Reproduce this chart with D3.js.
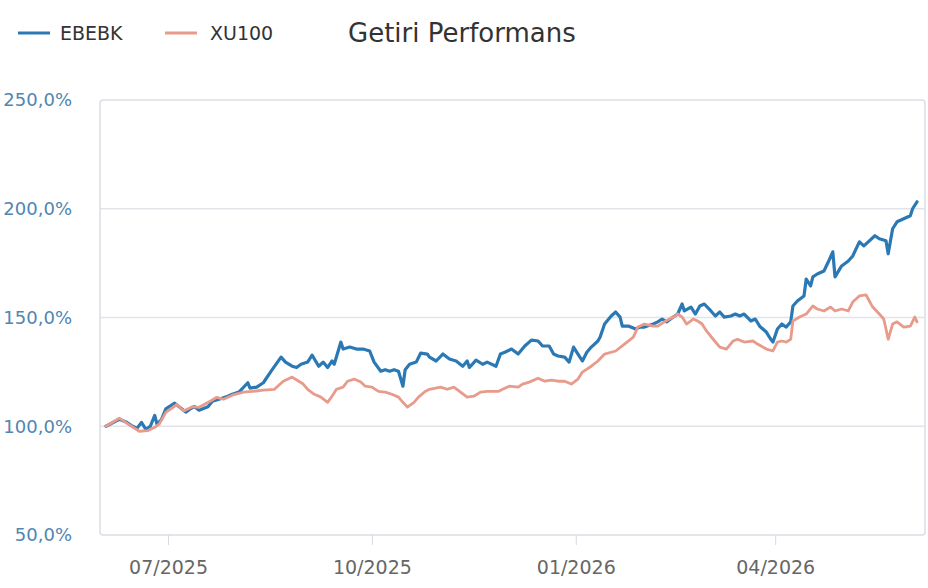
<!DOCTYPE html>
<html>
<head>
<meta charset="utf-8">
<script src="https://cdn.jsdelivr.net/npm/d3@7"></script>
<style>
  body { margin: 0; background: #fff; }
  svg { display: block; font-family: "DejaVu Sans", sans-serif; }
</style>
</head>
<body>
<svg id="chart"></svg>
<script>
const width = 928;
const height = 588;

// EBEBK, cumulative performance (% of start)
const ebebk = [
  ["2025-06-03", 100], ["2025-06-09", 103.2], ["2025-06-12", 102], ["2025-06-15", 100],
  ["2025-06-17", 99], ["2025-06-19", 101.8], ["2025-06-21", 98.6], ["2025-06-23", 100],
  ["2025-06-25", 105], ["2025-06-26", 101], ["2025-06-28", 103], ["2025-06-30", 108],
  ["2025-07-04", 110.6], ["2025-07-06", 109], ["2025-07-09", 106.5], ["2025-07-11", 108],
  ["2025-07-13", 109], ["2025-07-15", 107.4], ["2025-07-19", 109], ["2025-07-21", 111.5],
  ["2025-07-24", 112.4], ["2025-07-28", 113.8], ["2025-07-30", 114.7], ["2025-08-02", 115.7],
  ["2025-08-06", 120], ["2025-08-07", 117.5], ["2025-08-10", 118], ["2025-08-13", 120],
  ["2025-08-17", 126], ["2025-08-21", 131.8], ["2025-08-23", 129.5], ["2025-08-26", 127.6],
  ["2025-08-28", 127], ["2025-08-30", 128.5], ["2025-09-02", 129.5], ["2025-09-04", 132.7],
  ["2025-09-07", 127.6], ["2025-09-09", 129.5], ["2025-09-11", 127], ["2025-09-13", 130],
  ["2025-09-14", 128.5], ["2025-09-17", 138.7], ["2025-09-18", 135.5], ["2025-09-21", 136.4],
  ["2025-09-24", 135.5], ["2025-09-27", 135.5], ["2025-09-30", 134.6], ["2025-10-02", 129.5],
  ["2025-10-05", 125.3], ["2025-10-07", 126], ["2025-10-09", 125.3], ["2025-10-11", 126],
  ["2025-10-13", 125.3], ["2025-10-15", 118.4], ["2025-10-16", 126], ["2025-10-18", 128.5],
  ["2025-10-21", 129.5], ["2025-10-23", 133.6], ["2025-10-26", 133.2], ["2025-10-27", 131.8],
  ["2025-10-30", 130], ["2025-11-02", 133.2], ["2025-11-05", 130.9], ["2025-11-08", 130],
  ["2025-11-11", 127.6], ["2025-11-13", 130], ["2025-11-14", 127], ["2025-11-17", 130.4],
  ["2025-11-20", 128.5], ["2025-11-22", 129.5], ["2025-11-26", 127.6], ["2025-11-28", 133.2],
  ["2025-11-30", 134], ["2025-12-03", 135.5], ["2025-12-06", 133.2], ["2025-12-09", 136.9],
  ["2025-12-12", 139.6], ["2025-12-15", 139.2], ["2025-12-17", 136.9], ["2025-12-20", 136.9],
  ["2025-12-22", 133.2], ["2025-12-24", 132.3], ["2025-12-27", 131.8], ["2025-12-29", 129.5],
  ["2025-12-31", 136.4], ["2026-01-02", 133.2], ["2026-01-04", 130], ["2026-01-06", 134],
  ["2026-01-08", 136.4], ["2026-01-11", 139.2], ["2026-01-12", 141], ["2026-01-14", 147],
  ["2026-01-17", 150.7], ["2026-01-19", 152.5], ["2026-01-21", 150.2], ["2026-01-22", 146],
  ["2026-01-25", 146], ["2026-01-28", 144.7], ["2026-01-30", 145.6], ["2026-02-01", 145.6],
  ["2026-02-05", 147], ["2026-02-07", 148], ["2026-02-09", 149.3], ["2026-02-11", 148],
  ["2026-02-14", 150.2], ["2026-02-16", 151.6], ["2026-02-18", 156.2], ["2026-02-19", 153],
  ["2026-02-22", 154.8], ["2026-02-24", 151.6], ["2026-02-26", 155.3], ["2026-02-28", 156.2],
  ["2026-03-03", 153], ["2026-03-05", 150.7], ["2026-03-07", 152.5], ["2026-03-09", 150.2],
  ["2026-03-12", 150.7], ["2026-03-14", 151.6], ["2026-03-16", 150.7], ["2026-03-18", 151.6],
  ["2026-03-21", 148.4], ["2026-03-23", 149.3], ["2026-03-25", 146], ["2026-03-28", 143.3],
  ["2026-03-30", 140], ["2026-03-31", 138.7], ["2026-04-02", 144.7], ["2026-04-04", 147],
  ["2026-04-06", 145.6], ["2026-04-08", 148], ["2026-04-09", 155.3], ["2026-04-11", 157.6],
  ["2026-04-14", 159.9], ["2026-04-15", 167.7], ["2026-04-17", 164.5], ["2026-04-18", 168.7],
  ["2026-04-20", 170], ["2026-04-23", 171.4], ["2026-04-25", 175.6], ["2026-04-27", 180.2],
  ["2026-04-28", 168.7], ["2026-05-01", 173.7], ["2026-05-04", 176], ["2026-05-06", 178.3],
  ["2026-05-09", 184.8], ["2026-05-11", 182.9], ["2026-05-13", 184.8], ["2026-05-16", 187.6],
  ["2026-05-18", 186.2], ["2026-05-21", 185.3], ["2026-05-22", 179.3], ["2026-05-24", 190.8],
  ["2026-05-26", 194], ["2026-05-29", 195.4], ["2026-06-01", 196.8], ["2026-06-02", 200],
  ["2026-06-04", 203.2]
];

// XU100, same basis
const xu100 = [
  ["2025-06-03", 100], ["2025-06-09", 103.7], ["2025-06-13", 101], ["2025-06-18", 97.7],
  ["2025-06-22", 98], ["2025-06-25", 99.5], ["2025-06-27", 101], ["2025-06-30", 106.4],
  ["2025-07-05", 110], ["2025-07-08", 107], ["2025-07-12", 109], ["2025-07-15", 108.7],
  ["2025-07-20", 111.5], ["2025-07-23", 113.3], ["2025-07-26", 112.4], ["2025-07-30", 114.3],
  ["2025-08-04", 115.7], ["2025-08-08", 116], ["2025-08-13", 116.6], ["2025-08-18", 117],
  ["2025-08-22", 120.7], ["2025-08-26", 122.6], ["2025-08-29", 120.7], ["2025-08-31", 119.4],
  ["2025-09-02", 117], ["2025-09-05", 114.7], ["2025-09-08", 113.4], ["2025-09-11", 111],
  ["2025-09-13", 113.8], ["2025-09-15", 117], ["2025-09-18", 118], ["2025-09-20", 120.7],
  ["2025-09-23", 121.7], ["2025-09-26", 120.3], ["2025-09-28", 118.4], ["2025-10-01", 118],
  ["2025-10-04", 116], ["2025-10-07", 115.7], ["2025-10-10", 114.7], ["2025-10-13", 113.4],
  ["2025-10-15", 111], ["2025-10-17", 108.8], ["2025-10-20", 111], ["2025-10-22", 113.4],
  ["2025-10-25", 116], ["2025-10-27", 117], ["2025-11-01", 118], ["2025-11-04", 117],
  ["2025-11-07", 118], ["2025-11-10", 115.7], ["2025-11-13", 113.4], ["2025-11-16", 113.8],
  ["2025-11-19", 115.7], ["2025-11-22", 116], ["2025-11-27", 116], ["2025-11-29", 117],
  ["2025-12-02", 118.4], ["2025-12-06", 118], ["2025-12-08", 119.4], ["2025-12-11", 120.3],
  ["2025-12-15", 122.1], ["2025-12-18", 120.7], ["2025-12-21", 121.2], ["2025-12-24", 120.7],
  ["2025-12-27", 120.7], ["2025-12-30", 119.4], ["2026-01-02", 121.7], ["2026-01-04", 124.9],
  ["2026-01-08", 127.6], ["2026-01-11", 130], ["2026-01-14", 133.2], ["2026-01-19", 134.6],
  ["2026-01-23", 137.8], ["2026-01-27", 141], ["2026-01-29", 145.6], ["2026-02-01", 147],
  ["2026-02-05", 146], ["2026-02-07", 146], ["2026-02-10", 148], ["2026-02-14", 150.2],
  ["2026-02-16", 151.6], ["2026-02-18", 150.2], ["2026-02-20", 147], ["2026-02-23", 149.3],
  ["2026-02-25", 148.4], ["2026-02-27", 147], ["2026-03-01", 143.8], ["2026-03-04", 140],
  ["2026-03-07", 136.4], ["2026-03-10", 135.5], ["2026-03-13", 139.2], ["2026-03-15", 140],
  ["2026-03-18", 138.7], ["2026-03-22", 139.2], ["2026-03-24", 137.8], ["2026-03-28", 135.5],
  ["2026-03-31", 134.6], ["2026-04-02", 138.7], ["2026-04-04", 139.2], ["2026-04-06", 138.7],
  ["2026-04-08", 140], ["2026-04-09", 148.4], ["2026-04-12", 150.2], ["2026-04-15", 151.6],
  ["2026-04-18", 155.3], ["2026-04-20", 153.9], ["2026-04-23", 153], ["2026-04-26", 154.8],
  ["2026-04-28", 153], ["2026-05-01", 153.9], ["2026-05-04", 153], ["2026-05-06", 157.1],
  ["2026-05-09", 159.9], ["2026-05-12", 160.4], ["2026-05-13", 158.5], ["2026-05-15", 154.8],
  ["2026-05-18", 151.6], ["2026-05-20", 149.3], ["2026-05-21", 144.7], ["2026-05-22", 140],
  ["2026-05-24", 147], ["2026-05-26", 148], ["2026-05-29", 145.6], ["2026-06-01", 146],
  ["2026-06-03", 150.2], ["2026-06-04", 148]
];

const yTicks = [50, 100, 150, 200, 250];
const xTicks = ["2025-07-01", "2025-10-01", "2026-01-01", "2026-04-01"];

const series = [
  {name: "EBEBK", values: ebebk, color: "#2a79b5", width: 3.2},
  {name: "XU100", values: xu100, color: "#e89a8b", width: 2.8}
];

const parse = d3.timeParse("%Y-%m-%d");
const frame = {left: 100, right: 925, top: 100, bottom: 535};

const x = d3.scaleTime()
    .domain(d3.extent(ebebk, d => parse(d[0])))
    .range([106, 917]);

const y = d3.scaleLinear()
    .domain([50, 250])
    .range([frame.bottom, frame.top]);

const tr = d3.formatLocale({decimal: ",", thousands: ".", grouping: [3], currency: ["", ""]});
const pct = v => tr.format(".1f")(v) + "%";

const svg = d3.select("#chart")
    .attr("width", width)
    .attr("height", height)
    .attr("viewBox", [0, 0, width, height]);

// grid
svg.append("g")
    .selectAll("line")
    .data(yTicks.filter(v => v > 50 && v < 250))
    .join("line")
    .attr("x1", frame.left)
    .attr("x2", frame.right)
    .attr("y1", d => y(d))
    .attr("y2", d => y(d))
    .attr("stroke", "#e3e3ea")
    .attr("stroke-width", 1.5);

svg.append("rect")
    .attr("x", frame.left)
    .attr("y", frame.top)
    .attr("width", frame.right - frame.left)
    .attr("height", frame.bottom - frame.top)
    .attr("rx", 3)
    .attr("fill", "none")
    .attr("stroke", "#dcdce4")
    .attr("stroke-width", 1.5);

// y labels
svg.append("g")
    .attr("text-anchor", "end")
    .attr("font-size", 18)
    .attr("fill", "#4f86b2")
    .selectAll("text")
    .data(yTicks)
    .join("text")
    .attr("x", 72)
    .attr("y", d => y(d))
    .attr("dy", "0.35em")
    .text(pct);

// x axis
const xAxis = svg.append("g")
    .attr("transform", `translate(0,${frame.bottom})`)
    .call(d3.axisBottom(x)
        .tickValues(xTicks.map(parse))
        .tickFormat(d3.timeFormat("%m/%Y"))
        .tickSize(10)
        .tickPadding(16));
xAxis.select(".domain").remove();
xAxis.selectAll(".tick line").attr("stroke", "#d8d8e0");
xAxis.selectAll(".tick text")
    .attr("font-family", "DejaVu Sans, sans-serif")
    .attr("font-size", 19)
    .attr("fill", "#666");

const line = d3.line()
    .x(d => x(parse(d[0])))
    .y(d => y(d[1]));

svg.append("g")
    .attr("fill", "none")
    .attr("stroke-linejoin", "round")
    .attr("stroke-linecap", "round")
    .selectAll("path")
    .data(series)
    .join("path")
    .attr("stroke", d => d.color)
    .attr("stroke-width", d => d.width)
    .attr("d", d => line(d.values));

// legend + title
const legend = svg.append("g")
    .selectAll("g")
    .data(series)
    .join("g")
    .attr("transform", (d, i) => `translate(${18 + i * 147},33)`);

legend.append("line")
    .attr("x1", 0)
    .attr("x2", 32)
    .attr("stroke", d => d.color)
    .attr("stroke-width", 3);

legend.append("text")
    .attr("x", (d, i) => i ? 45 : 42)
    .attr("dy", "0.35em")
    .attr("font-size", 19)
    .attr("fill", "#333")
    .text(d => d.name);

svg.append("text")
    .attr("x", 348)
    .attr("y", 33)
    .attr("dy", "0.35em")
    .attr("font-size", 26)
    .attr("fill", "#333")
    .text("Getiri Performans");
</script>
</body>
</html>
